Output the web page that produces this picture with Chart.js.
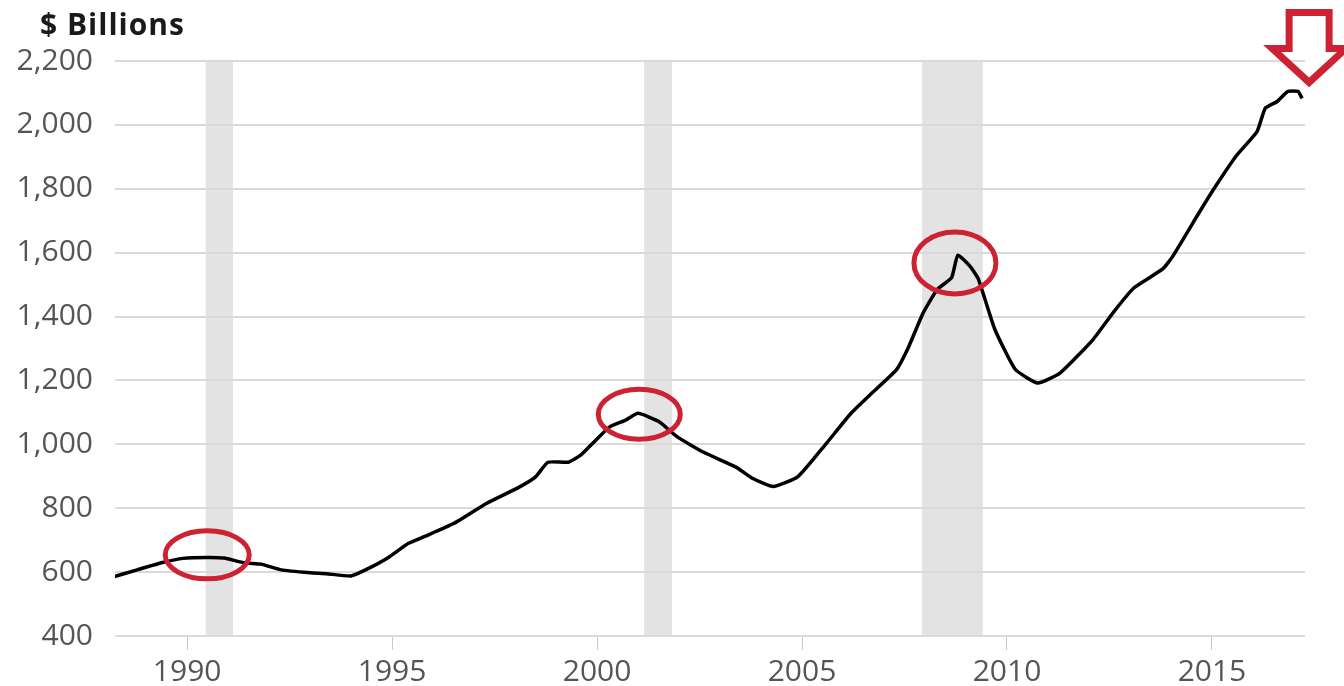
<!DOCTYPE html>
<html>
<head>
<meta charset="utf-8">
<script src="https://cdn.jsdelivr.net/npm/chart.js@4"></script>
<style>
  html, body { margin: 0; padding: 0; background: #fff; }
  #wrap { width: 1344px; height: 686px; }
</style>
</head>
<body>
<div id="wrap"><canvas id="chart-deuda"></canvas></div>
<script>
// serie mensual aproximada, en miles de millones
const years = [
  1988.2, 1988.8, 1989.4, 1989.9, 1990.5, 1990.9, 1991.4, 1991.8, 1992.3, 1993.0,
  1993.4, 1994.0, 1994.4, 1994.9, 1995.4, 1995.8, 1996.5, 1997.3, 1998.1, 1998.5,
  1998.8, 1999.3, 1999.6, 1999.9, 2000.3, 2000.7, 2001.0, 2001.5, 2001.95, 2002.6,
  2003.4, 2003.8, 2004.3, 2004.9, 2005.6, 2006.2, 2006.7, 2007.3, 2007.6, 2007.95,
  2008.3, 2008.65, 2008.8, 2009.1, 2009.3, 2009.7, 2010.2, 2010.75, 2011.3, 2012.1,
  2012.6, 2013.1, 2013.8, 2014.05, 2014.7, 2015.1, 2015.6, 2016.1, 2016.3, 2016.6,
  2016.85, 2017.1, 2017.2
];
const values = [
  585, 608, 630, 643, 646, 644, 629, 625, 607, 598,
  595, 588, 610, 645, 690, 712, 752, 815, 866, 898,
  944, 944, 966, 1004, 1054, 1076, 1097, 1072, 1024, 975,
  928, 893, 868, 899, 1004, 1098, 1160, 1233, 1305, 1410,
  1485, 1522, 1592, 1557, 1518, 1361, 1235, 1192, 1224, 1328,
  1414, 1490, 1549, 1590, 1728, 1810, 1904, 1979, 2052, 2074,
  2105, 2105, 2083
];

const xTicks = [1990, 1995, 2000, 2005, 2010, 2015];
const yTicks = [400, 600, 800, 1000, 1200, 1400, 1600, 1800, 2000, 2200];

// recesiones (franjas grises)
const recessionStart = [1990.45, 2001.15, 2007.93];
const recessionEnd = [1991.12, 2001.83, 2009.41];

// picos marcados con elipse roja
const peakYears = [1990.49, 2001.03, 2008.73];
const peakValues = [654, 1094, 1568];
const peakRadiusX = [42, 41, 41];
const peakRadiusY = [24, 25, 31];

const rojo = '#cc2233';
const fuente = '"Open Sans", "DejaVu Sans", sans-serif';

const recesiones = {
  id: 'recesiones',
  beforeDraw(chart) {
    const { ctx, chartArea, scales } = chart;
    ctx.save();
    ctx.fillStyle = '#e3e3e3';
    recessionStart.forEach((ini, i) => {
      const x1 = scales.x.getPixelForValue(ini);
      const x2 = scales.x.getPixelForValue(recessionEnd[i]);
      ctx.fillRect(x1, chartArea.top, x2 - x1, chartArea.bottom - chartArea.top);
    });
    ctx.restore();
  }
};

const elipses = {
  id: 'elipses',
  afterDatasetsDraw(chart) {
    const { ctx, scales } = chart;
    ctx.save();
    ctx.strokeStyle = rojo;
    ctx.lineWidth = 5;
    peakYears.forEach((yr, i) => {
      const cx = scales.x.getPixelForValue(yr);
      const cy = scales.y.getPixelForValue(peakValues[i]);
      ctx.beginPath();
      ctx.ellipse(cx, cy, peakRadiusX[i], peakRadiusY[i], 0, 0, Math.PI * 2);
      ctx.stroke();
    });
    ctx.restore();
  }
};

const extras = {
  id: 'extras',
  afterDraw(chart) {
    const { ctx, scales } = chart;
    ctx.save();
    // titulo del eje
    ctx.fillStyle = '#1a1a1a';
    ctx.font = 'bold 30px ' + fuente;
    ctx.letterSpacing = '1px';
    ctx.textBaseline = 'alphabetic';
    ctx.fillText('$ Billions', 40, 35);
    ctx.letterSpacing = '0px';

    // flecha sobre el ultimo dato
    const n = years.length - 1;
    const tx = scales.x.getPixelForValue(years[n]) + 7;
    const ty = scales.y.getPixelForValue(values[n]) - 16;
    ctx.strokeStyle = rojo;
    ctx.lineWidth = 7;
    ctx.lineJoin = 'miter';
    ctx.beginPath();
    ctx.moveTo(tx - 20, ty - 70);
    ctx.lineTo(tx + 20, ty - 70);
    ctx.lineTo(tx + 20, ty - 34);
    ctx.lineTo(tx + 37, ty - 34);
    ctx.lineTo(tx, ty);
    ctx.lineTo(tx - 37, ty - 34);
    ctx.lineTo(tx - 20, ty - 34);
    ctx.closePath();
    ctx.stroke();
    ctx.restore();
  }
};

const ctx = document.getElementById('chart-deuda').getContext('2d');
const chart = new Chart(ctx, {
  type: 'line',
  data: {
    datasets: [{
      data: years.map((y, i) => ({ x: y, y: values[i] })),
      borderColor: '#000',
      borderWidth: 3.5,
      pointRadius: 0,
      tension: 0.15,
      fill: false
    }]
  },
  options: {
    responsive: true,
    maintainAspectRatio: false,
    animation: false,
    layout: { padding: { top: 61, right: 39, left: 0, bottom: 0 } },
    plugins: {
      legend: { display: false },
      tooltip: { enabled: false }
    },
    scales: {
      x: {
        type: 'linear',
        min: 1988.24,
        max: 2017.27,
        afterBuildTicks: s => { s.ticks = xTicks.map(v => ({ value: v })); },
        afterFit: s => { s.height = 50; },
        grid: { drawOnChartArea: false, drawTicks: true, tickLength: 14, color: '#c8c8c8' },
        border: { display: false },
        ticks: {
          padding: 4,
          color: '#555',
          font: { family: fuente, size: 30 },
          callback: v => String(v)
        }
      },
      y: {
        min: 400,
        max: 2200,
        afterBuildTicks: s => { s.ticks = yTicks.map(v => ({ value: v })); },
        afterFit: s => { s.width = 115; },
        grid: { color: '#dadada', lineWidth: 2, drawTicks: false },
        border: { display: false },
        ticks: {
          padding: 22,
          color: '#555',
          font: { family: fuente, size: 30 },
          callback: v => v.toLocaleString('en-US')
        }
      }
    }
  },
  plugins: [recesiones, elipses, extras]
});
</script>
</body>
</html>
